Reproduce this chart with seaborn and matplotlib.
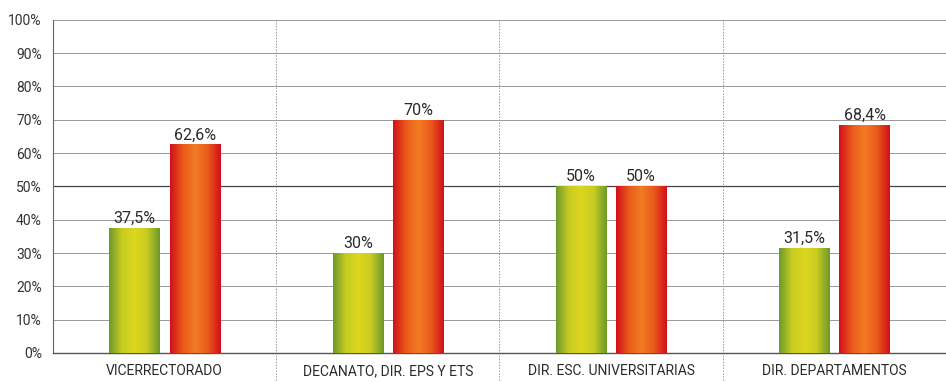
import numpy as np
import pandas as pd
import matplotlib
matplotlib.use("Agg")
import matplotlib.pyplot as plt
from matplotlib.colors import LinearSegmentedColormap
import seaborn as sns

categories = ["VICERRECTORADO", "DECANATO, DIR. EPS Y ETS",
              "DIR. ESC. UNIVERSITARIAS", "DIR. DEPARTAMENTOS"]
green_vals = [37.5, 30, 50, 31.5]
red_vals = [62.6, 70, 50, 68.4]
green_labels = ["37,5%", "30%", "50%", "31,5%"]
red_labels = ["62,6%", "70%", "50%", "68,4%"]
yticks = list(range(0, 101, 10))

df = pd.DataFrame({
    "cat": categories * 2,
    "serie": ["verde"] * 4 + ["rojo"] * 4,
    "val": green_vals + red_vals,
})

sns.set_style("white")
plt.rcParams["font.family"] = ["Roboto", "DejaVu Sans"]

fig = plt.figure(figsize=(9.46, 3.82), dpi=100)
ax = fig.add_axes([0.056, 0.076, 0.944, 0.872])

sns.barplot(data=df, x="cat", y="val", hue="serie", order=categories,
            hue_order=["verde", "rojo"], palette=["#b8c020", "#e84010"],
            width=0.54, gap=0.17, legend=False, ax=ax, zorder=3)

# gradient fill for bars
cmap_g = LinearSegmentedColormap.from_list("g", ["#6f9a2a", "#c8cc22", "#dcd61e", "#c8cc22", "#6f9a2a"])
cmap_r = LinearSegmentedColormap.from_list("r", ["#d2101a", "#ea5a1a", "#f27c24", "#ea5a1a", "#d2101a"])
grad = np.linspace(0, 1, 64).reshape(1, -1)
for i, p in enumerate(ax.patches):
    x0, w, h = p.get_x(), p.get_width(), p.get_height()
    cm = cmap_g if i < 4 else cmap_r
    im = ax.imshow(grad, cmap=cm, aspect="auto", extent=[x0, x0 + w, 0, h], zorder=3)
    im.set_clip_path(p)
    p.set_facecolor("none")
    p.set_edgecolor("none")

for i, p in enumerate(ax.patches):
    lab = (green_labels + red_labels)[i]
    ax.annotate(lab, (p.get_x() + p.get_width() / 2, p.get_height()),
                xytext=(0, 1.5), textcoords="offset points",
                ha="center", va="bottom", fontsize=11.5, color="#2a2a2a", zorder=4)

ax.set_xlim(-0.5, 3.5)
ax.set_ylim(0, 100)
ax.set_yticks(yticks)
ax.set_yticklabels([f"{t}%" for t in yticks], fontsize=10, color="#333333")
ax.tick_params(axis="y", length=4, width=0.8, color="#555555", pad=4)
ax.tick_params(axis="x", length=0, labelsize=10, labelcolor="#2a2a2a", pad=8)
ax.set_xlabel("")
ax.set_ylabel("")

for t in yticks[1:]:
    ax.axhline(t, color="#444444" if t == 50 else "#999999",
               lw=0.9 if t == 50 else 0.7, zorder=1)
for b in [0.5, 1.5, 2.5]:
    ax.axvline(b, ymin=-0.08, ymax=1, color="#999999", lw=0.7, ls=(0, (1.5, 1.5)),
               zorder=1, clip_on=False)

for s in ["top", "right"]:
    ax.spines[s].set_visible(False)
ax.spines["left"].set_color("#666666")
ax.spines["left"].set_linewidth(0.8)
ax.spines["bottom"].set_color("#555555")
ax.spines["bottom"].set_linewidth(1.0)

fig.savefig("out.png", dpi=100, facecolor="white")
